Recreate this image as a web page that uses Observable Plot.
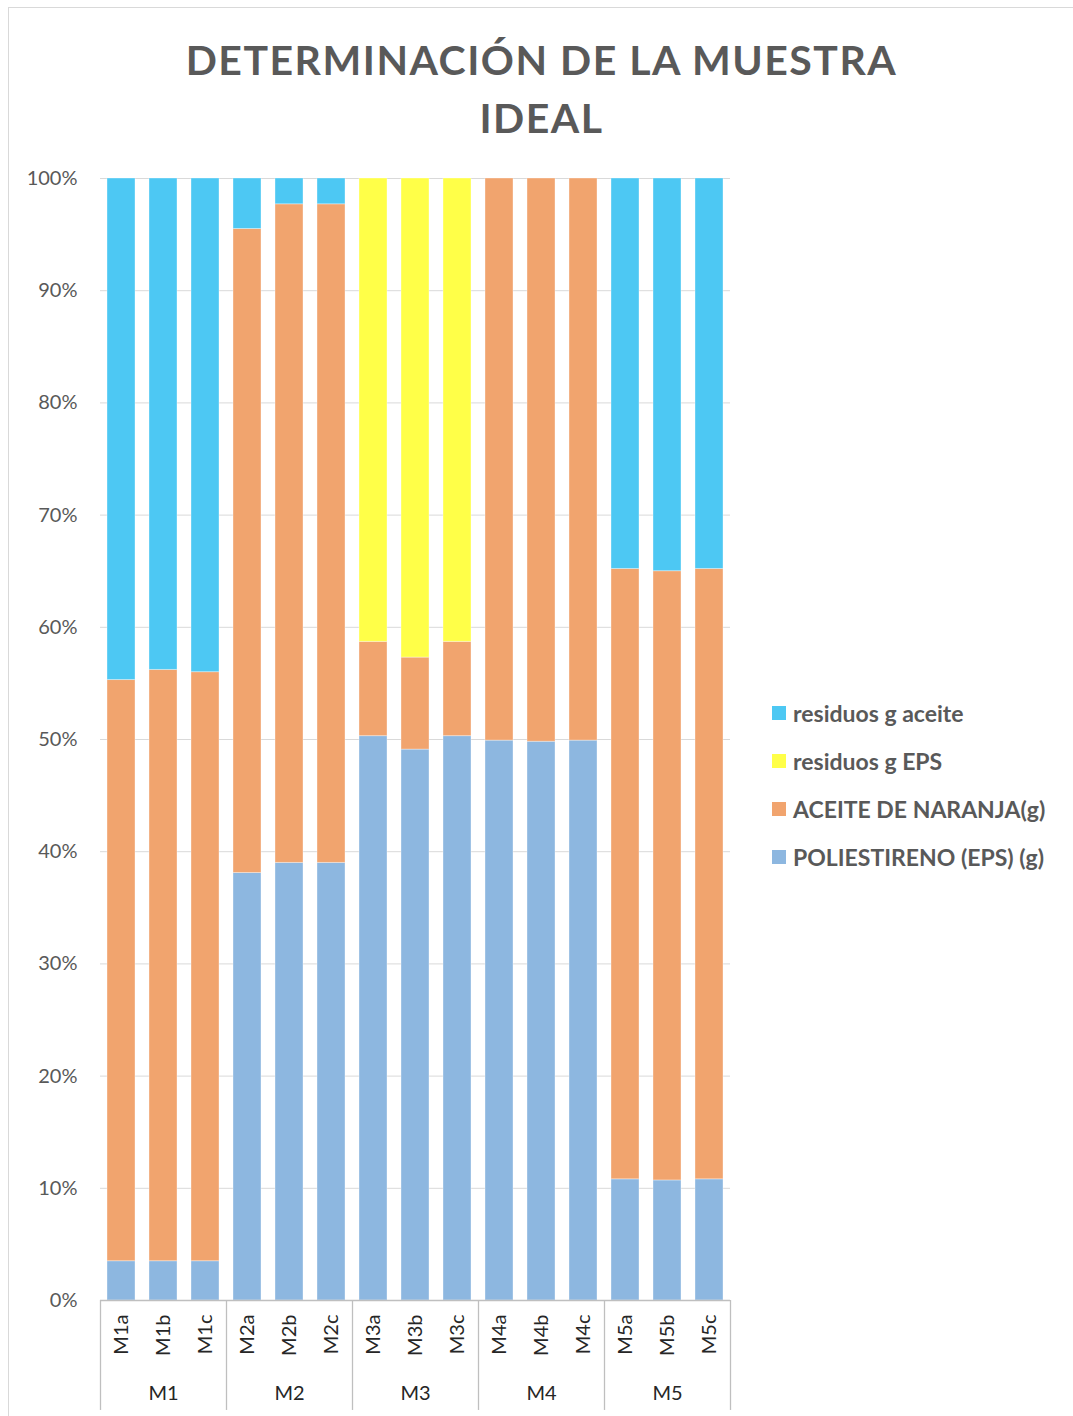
<!DOCTYPE html>
<html><head><meta charset="utf-8">
<script src="https://cdn.jsdelivr.net/npm/d3@7"></script>
<script src="https://cdn.jsdelivr.net/npm/@observablehq/plot@0.6"></script>
<style>
body{margin:0;background:#fff;font-family:Lato,"Open Sans",sans-serif;}
#wrap{position:relative;width:1073px;height:1416px;overflow:hidden;background:#fff}
#border{position:absolute;left:8px;top:7px;width:1080px;height:1440px;border:1px solid #d9d9d9}
#title{position:absolute;left:0;top:31px;width:1083px;text-align:center;font-weight:700;font-size:41px;color:#595959;line-height:58px;letter-spacing:1.5px}
#chart{position:absolute;left:0;top:150px}
#legend{position:absolute;left:772px;top:689px}
.item{display:flex;align-items:center;height:48px;font-weight:700;font-size:23px;color:#595959;white-space:nowrap}
.sw{width:14px;height:14px;margin-right:7px;flex:none}
</style></head>
<body>
<div id="wrap">
<div id="border"></div>
<div id="title">DETERMINACIÓN DE LA MUESTRA<br>IDEAL</div>
<div id="chart"></div>
<div id="legend"></div>
</div>
<script>
const samples = ["M1a","M1b","M1c","M2a","M2b","M2c","M3a","M3b","M3c","M4a","M4b","M4c","M5a","M5b","M5c"];
const groupNames = ["M1","M2","M3","M4","M5"];
const series = ["POLIESTIRENO (EPS) (g)","ACEITE DE NARANJA(g)","residuos g EPS","residuos g aceite"];
const colors = ["#8DB7E0","#F1A46E","#FFFF48","#4DC8F3"];
const eps       = [3.5,3.5,3.5,38.1,39.0,39.0,50.3,49.1,50.3,49.9,49.8,49.9,10.8,10.7,10.8];
const aceite    = [51.8,52.7,52.5,57.4,58.7,58.7,8.4,8.2,8.4,50.1,50.2,50.1,54.4,54.3,54.4];
const resEps    = [0,0,0,0,0,0,41.3,42.7,41.3,0,0,0,0,0,0];
const resAceite = [44.7,43.8,44.0,4.5,2.3,2.3,0,0,0,0,0,0,34.8,35.0,34.8];
const yTicks = [0,0.1,0.2,0.3,0.4,0.5,0.6,0.7,0.8,0.9,1];

const valuesBySeries = [eps, aceite, resEps, resAceite];
const rows = [];
series.forEach((s, k) => samples.forEach((m, i) => rows.push({sample: m, series: s, value: valuesBySeries[k][i]})));

const groupStarts = groupNames.map((g, j) => samples[j * 3]);
const groupMids = groupNames.map((g, j) => ({name: g, sample: samples[j * 3 + 1]}));

const width = 750, marginLeft = 100, marginRight = 20;
const step = (width - marginLeft - marginRight) / samples.length;

const chart = Plot.plot({
  width, height: 1266, marginTop: 28, marginBottom: 116, marginLeft, marginRight,
  style: {fontFamily: "Lato, 'Open Sans', sans-serif", fontSize: "20px", background: "transparent", overflow: "visible"},
  x: {domain: samples, paddingInner: 0.33, paddingOuter: 0.165, axis: null},
  y: {domain: [0, 1], axis: null},
  color: {domain: series, range: colors},
  marks: [
    Plot.ruleY(yTicks.slice(1), {stroke: "#d9d9d9", strokeWidth: 1}),
    Plot.axisY(yTicks, {tickSize: 0, tickPadding: 23, tickFormat: d3.format(".0%"), fontSize: 20, fill: "#595959", label: null}),
    Plot.barY(rows, Plot.stackY({offset: "normalize", x: "sample", y: "value", fill: "series", stroke: "white", strokeOpacity: 0.35, strokeWidth: 1})),
    Plot.ruleY([0], {stroke: "#bfbfbf", strokeWidth: 1.3}),
    Plot.axisX(samples, {tickSize: 0, tickPadding: 14, tickRotate: -90, fontSize: 20, fill: "#262626", label: null}),
    Plot.ruleX(groupStarts, {x: d => d, y1: 0, y2: -0.098, dx: -step / 2, stroke: "#bfbfbf", strokeWidth: 1.3}),
    Plot.ruleX([samples[samples.length - 1]], {x: d => d, y1: 0, y2: -0.098, dx: step / 2, stroke: "#bfbfbf", strokeWidth: 1.3}),
    Plot.text(groupMids, {x: "sample", text: "name", frameAnchor: "bottom", dy: 99, fontSize: 20, fill: "#262626"})
  ]
});
document.getElementById("chart").appendChild(chart);

const legend = document.getElementById("legend");
series.map((s, k) => ({s, c: colors[k]})).reverse().forEach(({s, c}) => {
  const item = document.createElement("div");
  item.className = "item";
  const sw = document.createElement("span");
  sw.className = "sw"; sw.style.background = c;
  const t = document.createElement("span");
  t.textContent = s;
  item.appendChild(sw); item.appendChild(t);
  legend.appendChild(item);
});
</script>
</body></html>
